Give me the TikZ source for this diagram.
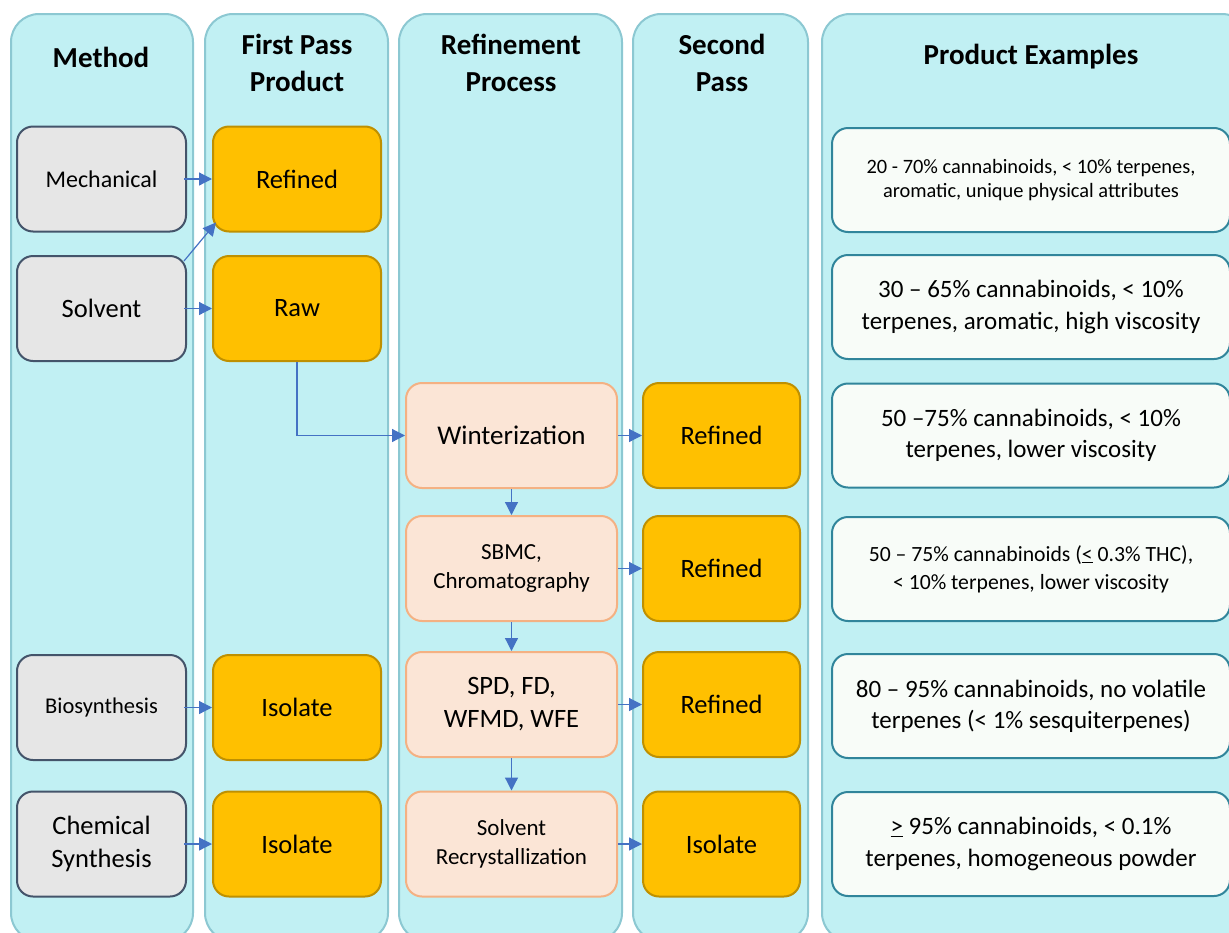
\documentclass[tikz,border=0pt]{standalone}
\usepackage{fontspec}
\setmainfont{Carlito}
\usetikzlibrary{arrows.meta}
\definecolor{lanefill}{RGB}{193,240,243}
\definecolor{laneline}{RGB}{140,200,210}
\definecolor{grayfill}{RGB}{230,230,230}
\definecolor{grayline}{RGB}{68,84,106}
\definecolor{goldfill}{RGB}{255,192,0}
\definecolor{goldline}{RGB}{191,144,0}
\definecolor{peachfill}{RGB}{251,229,214}
\definecolor{peachline}{RGB}{244,177,131}
\definecolor{notefill}{RGB}{248,252,248}
\definecolor{noteline}{RGB}{49,133,155}
\definecolor{flowblue}{RGB}{68,114,196}
\newcommand{\fs}[1]{\fontsize{#1}{1.25\dimexpr#1pt\relax}\selectfont}

\begin{document}
\begin{tikzpicture}[x=1pt,y=-1pt,
    lane/.style={draw=laneline,line width=2pt,fill=lanefill,rounded corners=28pt,
      minimum height=927pt,anchor=north,inner sep=0pt},
    head/.style={font=\fs{29}\bfseries,align=center},
    box/.style={rounded corners=16pt,line width=2pt,minimum height=105pt,
      align=center,inner sep=2pt,font=\fs{26.5}},
    method/.style={box,draw=grayline,fill=grayfill,minimum width=169pt},
    product/.style={box,draw=goldline,fill=goldfill,minimum width=168pt},
    refine/.style={box,draw=peachline,fill=peachfill,minimum width=211pt},
    second/.style={box,draw=goldline,fill=goldfill,minimum width=157pt},
    example/.style={box,draw=noteline,fill=notefill,minimum width=398pt,
      minimum height=104pt,font=\fs{25}},
    flow/.style={draw=flowblue,line width=1.2pt,-{Triangle[length=13pt,width=13pt]}}]

\clip (0,0) rectangle (1229,932);
\fill[white] (0,0) rectangle (1229,932);

% Swim lanes
\node[lane,minimum width=182pt] (lmeth) at (102,13) {};
\node[lane,minimum width=183pt] (lfirst) at (296.5,13) {};
\node[lane,minimum width=223pt] (lref) at (510.5,13) {};
\node[lane,minimum width=175pt] (lsec) at (720.5,13) {};
\node[lane,minimum width=428pt] (lex) at (1036,13) {};

% Lane headings
\node[head] (hmeth) at (101,57) {Method};
\node[head] (hfirst) at (297,63) {First Pass\\Product};
\node[head] (href) at (511,63) {Refinement\\Process};
\node[head] (hsec) at (722,63) {Second\\Pass};
\node[head] (hex) at (1031,57) {Product Examples};

% Methods
\node[method,font=\fs{24}] (mech) at (101.5,179) {Mechanical};
\node[method] (solv) at (101.5,308.5) {Solvent};
\node[method,font=\fs{22.5}] (bio) at (101.5,707.5) {Biosynthesis};
\node[method] (chem) at (101.5,844) {Chemical\\Synthesis};

% First pass products
\node[product] (ref1) at (297,179) {Refined};
\node[product] (raw) at (297,308.5) {Raw};
\node[product] (iso1) at (297,707.5) {Isolate};
\node[product] (iso2) at (297,844) {Isolate};

% Refinement steps
\node[refine,font=\fs{27}] (wint) at (511.5,435.5) {Winterization};
\node[refine,font=\fs{23}] (sbmc) at (511.5,568.5) {SBMC,\\Chromatography};
\node[refine] (spd) at (511.5,704.5) {SPD, FD,\\WFMD, WFE};
\node[refine,font=\fs{23}] (recr) at (511.5,844) {Solvent\\Recrystallization};

% Second pass products
\node[second] (sec1) at (721.5,435.5) {Refined};
\node[second] (sec2) at (721.5,568.5) {Refined};
\node[second] (sec3) at (721.5,704.5) {Refined};
\node[second] (sec4) at (721.5,844) {Isolate};

% Product examples
\node[example,font=\fontsize{20.4}{24.5}\selectfont] (ex1) at (1031,180) {20 - 70\% cannabinoids, < 10\% terpenes,\\aromatic, unique physical attributes};
\node[example] (ex2) at (1031,307) {30 – 65\% cannabinoids, < 10\%\\terpenes, aromatic, high viscosity};
\node[example] (ex3) at (1031,435.5) {50 –75\% cannabinoids, < 10\%\\terpenes, lower viscosity};
\node[example,font=\fontsize{21.7}{28}\selectfont] (ex4) at (1031,569) {50 – 75\% cannabinoids (\underline{<} 0.3\% THC),\\< 10\% terpenes, lower viscosity};
\node[example] (ex5) at (1031,706) {80 – 95\% cannabinoids, no volatile\\terpenes (< 1\% sesquiterpenes)};
\node[example] (ex6) at (1031,844) {\underline{>} 95\% cannabinoids, < 0.1\%\\terpenes, homogeneous powder};

% Method to first pass
\draw[flow] ([xshift=-3pt]mech.east) -- (ref1.west);
\draw[flow] ([shift={(-3,6)}]solv.north east) -- ([shift={(4,-10)}]ref1.south west);
\draw[flow] ([xshift=-3pt]solv.east) -- (raw.west);
\draw[flow] ([xshift=-3pt]bio.east) -- (iso1.west);
\draw[flow] ([xshift=-3pt]chem.east) -- (iso2.west);

% Raw into refinement chain
\draw[flow] (raw.south) |- (wint.west);
\draw[flow] (wint.south) -- (sbmc.north);
\draw[flow] (sbmc.south) -- (spd.north);
\draw[flow] (spd.south) -- (recr.north);

% Refinement to second pass
\draw[flow] (wint.east) -- (sec1.west);
\draw[flow] (sbmc.east) -- (sec2.west);
\draw[flow] (spd.east) -- (sec3.west);
\draw[flow] (recr.east) -- (sec4.west);

\end{tikzpicture}
\end{document}
